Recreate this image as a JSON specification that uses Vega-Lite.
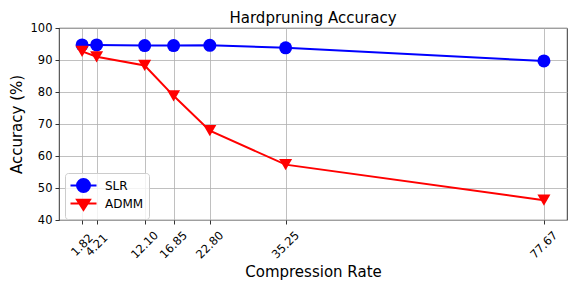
{
  "$schema": "https://vega.github.io/schema/vega-lite/v6.json",
  "width": 508,
  "height": 192,
  "autosize": {"type": "none"},
  "padding": {"left": 59, "top": 28, "right": 14, "bottom": 71},
  "title": {"text": "Hardpruning Accuracy", "fontSize": 15, "font": "DejaVu Sans", "fontWeight": "normal", "color": "black", "offset": -4},
  "config": {
    "font": "DejaVu Sans",
    "view": {"stroke": "black", "strokeWidth": 0.8},
    "axis": {
      "domain": false,
      "gridColor": "#b0b0b0",
      "gridWidth": 0.8,
      "tickColor": "black",
      "tickWidth": 0.8,
      "tickSize": 4,
      "labelColor": "black",
      "labelFontSize": 11.5,
      "labelFont": "DejaVu Sans",
      "titleFont": "DejaVu Sans",
      "titleFontSize": 15,
      "titleFontWeight": "normal",
      "titleColor": "black"
    }
  },
  "data": {
    "values": [
      {"rate": 1.82, "acc": 94.7, "method": "SLR"},
      {"rate": 4.21, "acc": 94.7, "method": "SLR"},
      {"rate": 12.10, "acc": 94.5, "method": "SLR"},
      {"rate": 16.85, "acc": 94.5, "method": "SLR"},
      {"rate": 22.80, "acc": 94.6, "method": "SLR"},
      {"rate": 35.25, "acc": 93.8, "method": "SLR"},
      {"rate": 77.67, "acc": 89.7, "method": "SLR"},
      {"rate": 1.82, "acc": 92.7, "method": "ADMM"},
      {"rate": 4.21, "acc": 91.0, "method": "ADMM"},
      {"rate": 12.10, "acc": 88.3, "method": "ADMM"},
      {"rate": 16.85, "acc": 78.8, "method": "ADMM"},
      {"rate": 22.80, "acc": 67.9, "method": "ADMM"},
      {"rate": 35.25, "acc": 57.3, "method": "ADMM"},
      {"rate": 77.67, "acc": 46.2, "method": "ADMM"}
    ]
  },
  "encoding": {
    "x": {
      "field": "rate", "type": "quantitative",
      "scale": {"domain": [-1.97, 81.46], "nice": false, "zero": false},
      "axis": {
        "title": "Compression Rate",
        "values": [1.82, 4.21, 12.10, 16.85, 22.80, 35.25, 77.67],
        "format": ".2f",
        "labelAngle": -45,
        "labelAlign": "center",
        "labelBaseline": "middle",
        "labelPadding": 21,
        "labelOverlap": false,
        "labelBound": false,
        "titlePadding": 4
      }
    },
    "y": {
      "field": "acc", "type": "quantitative",
      "scale": {"domain": [40, 100], "nice": false, "zero": false},
      "axis": {"title": "Accuracy (%)", "values": [40, 50, 60, 70, 80, 90, 100], "labelPadding": 3, "titlePadding": 6}
    },
    "color": {
      "field": "method", "type": "nominal",
      "scale": {"domain": ["SLR", "ADMM"], "range": ["#0000ff", "#ff0000"]},
      "legend": {
        "title": null,
        "orient": "none",
        "legendX": 6,
        "legendY": 145,
        "padding": 5,
        "rowPadding": -2,
        "symbolSize": 169,
        "symbolOffset": 6,
        "labelFontSize": 12,
        "labelFont": "DejaVu Sans",
        "labelColor": "black",
        "labelOffset": 14,
        "strokeColor": "#cccccc",
        "fillColor": "rgba(255,255,255,0.8)",
        "cornerRadius": 3,
        "encode": {
          "symbols": {
            "update": {
              "shape": {"signal": "datum.value === 'SLR' ? 'M-2,0L2,0M1,0A1,1 0 1,1 -1,0A1,1 0 1,1 1,0Z' : 'M-2,0L2,0M0,1L-1,-0.577L1,-0.577Z'"},
              "stroke": {"signal": "datum.value === 'SLR' ? '#0000ff' : '#ff0000'"},
              "fill": {"signal": "datum.value === 'SLR' ? '#0000ff' : '#ff0000'"},
              "strokeWidth": {"value": 2},
              "size": {"value": 169},
              "opacity": {"value": 1}
            }
          }
        }
      }
    }
  },
  "layer": [
    {"mark": {"type": "line", "strokeWidth": 2}},
    {
      "transform": [{"filter": "datum.method === 'SLR'"}],
      "mark": {"type": "point", "filled": true, "size": 169, "opacity": 1, "shape": "circle"}
    },
    {
      "transform": [{"filter": "datum.method === 'ADMM'"}],
      "mark": {"type": "point", "filled": true, "size": 169, "opacity": 1, "shape": "triangle-down"}
    }
  ]
}
